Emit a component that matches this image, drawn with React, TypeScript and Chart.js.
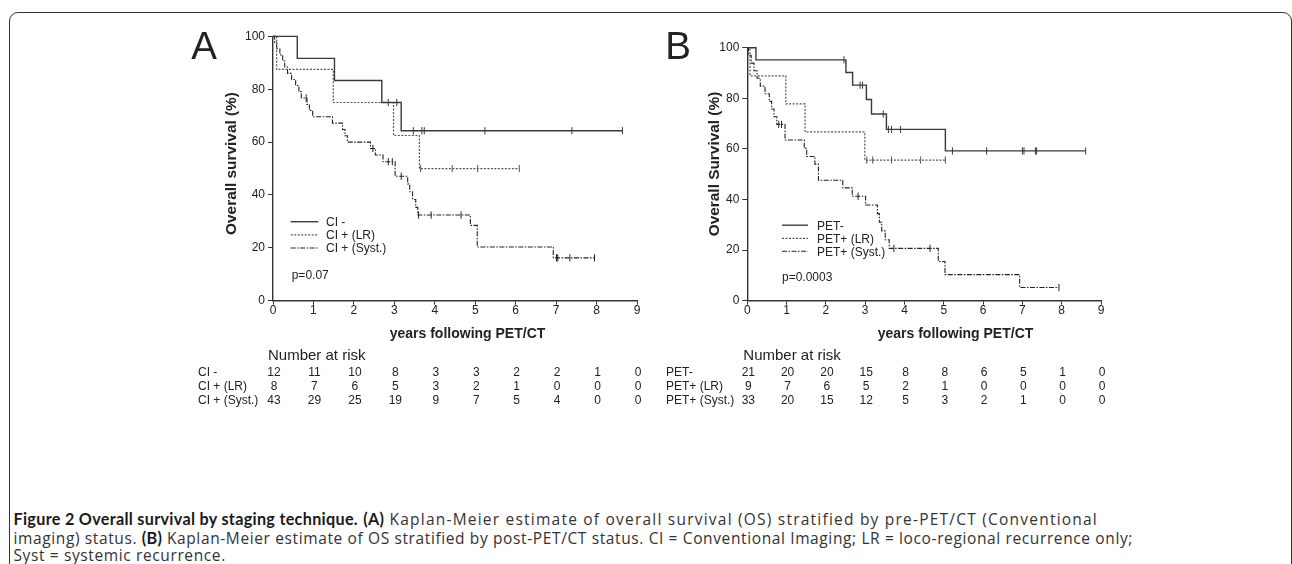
import React, { useEffect, useLayoutEffect, useRef } from "react";
import { Chart, registerables } from "chart.js";

Chart.register(...registerables);

// ---------- shared axis data ----------
const X_TICK_VALUES = [0, 1, 2, 3, 4, 5, 6, 7, 8, 9];

// ---------- Panel A : conventional imaging ----------
const aNames = ["CI -", "CI + (LR)", "CI + (Syst.)"];

const aNegTimes = [0, 0.6, 1.52, 2.69, 3.17, 8.64];
const aNegSurv = [100, 91.7, 83.3, 75.0, 64.3, 64.3];
const aNegCensor = [2.85, 3.06, 3.47, 3.68, 3.74, 5.24, 7.39, 8.64];

const aLrTimes = [0, 0.09, 1.49, 2.98, 3.62, 6.09];
const aLrSurv = [100, 87.5, 75.0, 62.5, 50.0, 50.0];
const aLrCensor = [3.65, 4.43, 5.06, 6.09];

const aSystTimes = [0, 0.04, 0.09, 0.17, 0.24, 0.29, 0.36, 0.46, 0.56, 0.64, 0.7, 0.84, 0.9, 0.98, 1.47, 1.72, 1.78, 1.84, 2.41, 2.53, 2.72, 3.02, 3.33, 3.38, 3.45, 3.53, 3.58, 4.88, 5.05, 6.93, 7.95];
const aSystSurv = [100, 97.7, 95.3, 93.0, 90.7, 88.4, 86.0, 83.7, 81.4, 79.1, 76.7, 74.3, 72.0, 69.6, 67.2, 64.8, 62.4, 60.0, 57.6, 55.1, 52.6, 47.1, 44.2, 41.2, 38.3, 35.3, 32.4, 28.5, 20.3, 16.2, 16.2];
const aSystCensor = [0.82, 2.47, 2.85, 2.95, 3.17, 3.6, 3.91, 4.65, 7.01, 7.04, 7.34, 7.95];

const aRiskNeg = [12, 11, 10, 8, 3, 3, 2, 2, 1, 0];
const aRiskLr = [8, 7, 6, 5, 3, 2, 1, 0, 0, 0];
const aRiskSyst = [43, 29, 25, 19, 9, 7, 5, 4, 0, 0];

// ---------- Panel B : PET/CT ----------
const bNames = ["PET-", "PET+ (LR)", "PET+ (Syst.)"];

const bNegTimes = [0, 0.22, 2.51, 2.68, 3.03, 3.16, 3.54, 5.04, 8.61];
const bNegSurv = [100, 95.2, 90.2, 85.2, 79.5, 73.8, 67.7, 59.2, 59.2];
const bNegCensor = [2.46, 2.87, 2.93, 3.46, 3.59, 3.67, 3.9, 5.22, 6.09, 7.0, 7.04, 7.33, 7.36, 8.61];

const bLrTimes = [0, 0.07, 0.98, 1.47, 2.99, 5.04];
const bLrSurv = [100, 88.9, 77.8, 66.7, 55.6, 55.6];
const bLrCensor = [3.04, 3.19, 3.67, 4.41, 5.04];

const bSystTimes = [0, 0.03, 0.1, 0.17, 0.25, 0.33, 0.45, 0.56, 0.62, 0.68, 0.75, 0.96, 1.45, 1.51, 1.72, 1.81, 2.43, 2.67, 3.01, 3.31, 3.36, 3.42, 3.51, 3.61, 4.86, 5.03, 6.93, 7.93];
const bSystSurv = [100, 97.0, 93.9, 90.9, 87.9, 84.8, 81.8, 78.8, 75.8, 72.7, 69.7, 63.5, 60.2, 57.0, 54.0, 47.6, 44.6, 41.3, 37.8, 34.4, 31.0, 27.6, 24.1, 20.7, 15.5, 10.3, 5.2, 5.2];
const bSystCensor = [0.8, 0.87, 2.82, 3.73, 4.65, 7.93];

const bRiskNeg = [21, 20, 20, 15, 8, 8, 6, 5, 1, 0];
const bRiskLr = [9, 7, 6, 5, 2, 1, 0, 0, 0, 0];
const bRiskSyst = [33, 20, 15, 12, 5, 3, 2, 1, 0, 0];

// ---------- caption ----------
const captionLines: { text: string; bold: boolean }[][] = [
  [
    { text: "Figure 2 Overall survival by staging technique.", bold: true },
    { text: " ", bold: false },
    { text: "(A)", bold: true },
    { text: " Kaplan-Meier estimate of overall survival (OS) stratified by pre-PET/CT (Conventional", bold: false },
  ],
  [
    { text: "imaging) status. ", bold: false },
    { text: "(B)", bold: true },
    { text: " Kaplan-Meier estimate of OS stratified by post-PET/CT status. CI = Conventional Imaging; LR = loco-regional recurrence only;", bold: false },
  ],
  [{ text: "Syst = systemic recurrence.", bold: false }],
];

// ---------- styles ----------
const SERIES_STYLE = [
  { color: "#3a3a3a", width: 1.4, dash: [] as number[] },
  { color: "#555555", width: 1.2, dash: [2, 1.5] },
  { color: "#222222", width: 1.1, dash: [5, 1.5, 1.5, 1.5] },
];
const FONT = "'Liberation Sans', Arial, Helvetica, sans-serif";
const TEXT = "#222";

function survAt(times: number[], surv: number[], t: number) {
  let s = surv[0];
  for (let i = 0; i < times.length; i++) if (times[i] <= t + 1e-9) s = surv[i];
  return s;
}

type PanelSpec = {
  left: number; top: number; w: number; h: number;
  area: { l: number; r: number; t: number; b: number };
  letter: string; letterX: number;
  yTitle: string; yTitleX: number; yTitleY: number;
  xTitleX: number;
  legendX1: number; legendX2: number; legendTextX: number; legendYs: number[];
  pText: string; pX: number; pY: number;
  riskTitleX: number; riskLabelX: number;
  names: string[];
  series: { times: number[]; surv: number[]; censor: number[] }[];
  risk: number[][];
};

const PANELS: PanelSpec[] = [
  {
    left: 160, top: 0, w: 500, h: 420,
    area: { l: 273, r: 637, t: 36.4, b: 300.7 },
    letter: "A", letterX: 204,
    yTitle: "Overall survival (%)", yTitleX: 232, yTitleY: 163.5,
    xTitleX: 467.5,
    legendX1: 290.7, legendX2: 318.3, legendTextX: 326, legendYs: [221.7, 234.8, 248],
    pText: "p=0.07", pX: 291.7, pY: 276,
    riskTitleX: 268, riskLabelX: 198,
    names: aNames,
    series: [
      { times: aNegTimes, surv: aNegSurv, censor: aNegCensor },
      { times: aLrTimes, surv: aLrSurv, censor: aLrCensor },
      { times: aSystTimes, surv: aSystSurv, censor: aSystCensor },
    ],
    risk: [aRiskNeg, aRiskLr, aRiskSyst],
  },
  {
    left: 650, top: 0, w: 500, h: 420,
    area: { l: 747.3, r: 1101, t: 47.7, b: 300.7 },
    letter: "B", letterX: 678,
    yTitle: "Overall Survival (%)", yTitleX: 715, yTitleY: 164,
    xTitleX: 955.5,
    legendX1: 782, legendX2: 808, legendTextX: 817, legendYs: [225.2, 238.3, 251.3],
    pText: "p=0.0003", pX: 782, pY: 277.3,
    riskTitleX: 743.3, riskLabelX: 666,
    names: bNames,
    series: [
      { times: bNegTimes, surv: bNegSurv, censor: bNegCensor },
      { times: bLrTimes, surv: bLrSurv, censor: bLrCensor },
      { times: bSystTimes, surv: bSystSurv, censor: bSystCensor },
    ],
    risk: [bRiskNeg, bRiskLr, bRiskSyst],
  },
];

const RISK_BASELINES = [375.7, 390, 404];

function Panel({ spec }: { spec: PanelSpec }) {
  const ref = useRef<HTMLCanvasElement>(null);

  useEffect(() => {
    const canvas = ref.current;
    if (!canvas) return;
    const ox = spec.left;
    const oy = spec.top;

    const datasets: any[] = [];
    spec.series.forEach((s, i) => {
      const st = SERIES_STYLE[i];
      datasets.push({
        label: spec.names[i],
        data: s.times.map((t, k) => ({ x: t, y: s.surv[k] })),
        stepped: true,
        borderColor: st.color,
        borderWidth: st.width,
        borderDash: st.dash,
        pointRadius: 0,
        fill: false,
        tension: 0,
        clip: false,
      });
    });
    spec.series.forEach((s, i) => {
      const st = SERIES_STYLE[i];
      datasets.push({
        label: spec.names[i] + " censored",
        data: s.censor.map((t) => ({ x: t, y: survAt(s.times, s.surv, t) })),
        showLine: false,
        pointStyle: "line",
        pointRotation: 90,
        pointRadius: 3.6,
        pointBorderColor: st.color,
        pointBorderWidth: 1,
        pointBackgroundColor: st.color,
        clip: false,
      });
    });

    const textPlugin = {
      id: "panelText",
      afterDraw(chart: any) {
        const ctx = chart.ctx as CanvasRenderingContext2D;
        const xs = chart.scales.x;
        ctx.save();
        ctx.fillStyle = TEXT;

        // panel letter
        ctx.font = `38.5px ${FONT}`;
        ctx.textAlign = "center";
        ctx.textBaseline = "alphabetic";
        ctx.fillText(spec.letter, spec.letterX - ox, 59.3 - oy);

        // y title
        ctx.save();
        ctx.font = `bold 15.4px ${FONT}`;
        ctx.textAlign = "center";
        ctx.textBaseline = "middle";
        ctx.translate(spec.yTitleX - ox, spec.yTitleY - oy);
        ctx.rotate(-Math.PI / 2);
        ctx.fillText(spec.yTitle, 0, 0);
        ctx.restore();

        // x title
        ctx.font = `bold 14px ${FONT}`;
        ctx.textAlign = "center";
        ctx.textBaseline = "alphabetic";
        ctx.fillText("years following PET/CT", spec.xTitleX - ox, 337.5 - oy);

        // legend
        spec.names.forEach((name, i) => {
          const st = SERIES_STYLE[i];
          const y = spec.legendYs[i] - oy;
          ctx.save();
          ctx.strokeStyle = st.color;
          ctx.lineWidth = st.width;
          ctx.setLineDash(st.dash);
          ctx.beginPath();
          ctx.moveTo(spec.legendX1 - ox, y);
          ctx.lineTo(spec.legendX2 - ox, y);
          ctx.stroke();
          ctx.restore();
          ctx.font = `12px ${FONT}`;
          ctx.textAlign = "left";
          ctx.textBaseline = "middle";
          ctx.fillText(name, spec.legendTextX - ox, y + 1);
        });

        // p value
        ctx.font = `12px ${FONT}`;
        ctx.textAlign = "left";
        ctx.textBaseline = "middle";
        ctx.fillText(spec.pText, spec.pX - ox, spec.pY - oy);

        // number at risk table
        ctx.font = `15px ${FONT}`;
        ctx.textBaseline = "alphabetic";
        ctx.textAlign = "left";
        ctx.fillText("Number at risk", spec.riskTitleX - ox, 359.5 - oy);

        ctx.font = `12px ${FONT}`;
        spec.risk.forEach((row, r) => {
          const by = RISK_BASELINES[r] - oy;
          ctx.textAlign = "left";
          ctx.fillText(spec.names[r], spec.riskLabelX - ox, by);
          ctx.textAlign = "center";
          row.forEach((v, c) => {
            ctx.fillText(String(v), xs.getPixelForValue(X_TICK_VALUES[c]) + 1, by);
          });
        });
        ctx.restore();
      },
    };

    const a = spec.area;
    const chart = new Chart(canvas, {
      type: "line",
      data: { datasets },
      options: {
        animation: false,
        responsive: false,
        maintainAspectRatio: false,
        devicePixelRatio: 1,
        events: [],
        layout: {
          padding: { left: 0, top: a.t - oy, right: spec.w - (a.r - ox), bottom: 0 },
        },
        plugins: { legend: { display: false }, tooltip: { enabled: false } },
        scales: {
          x: {
            type: "linear",
            min: 0,
            max: 9,
            afterBuildTicks: (scale: any) => {
              scale.ticks = X_TICK_VALUES.map((v) => ({ value: v }));
            },
            afterFit: (scale: any) => {
              scale.height = spec.h - (a.b - oy);
            },
            ticks: {
              color: TEXT,
              font: { family: FONT, size: 12, lineHeight: 1 },
              padding: 0,
              maxRotation: 0,
              autoSkip: false,
            },
            grid: { display: true, drawOnChartArea: false, drawTicks: true, tickLength: 4, color: "#333", lineWidth: 1 },
            border: { display: true, color: "#333", width: 1.4 },
          },
          y: {
            type: "linear",
            min: 0,
            max: 100,
            afterFit: (scale: any) => {
              scale.width = a.l - ox;
            },
            ticks: {
              stepSize: 20,
              color: TEXT,
              font: { family: FONT, size: 12 },
              padding: 3,
            },
            grid: { display: true, drawOnChartArea: false, drawTicks: true, tickLength: 5, color: "#333", lineWidth: 1 },
            border: { display: true, color: "#333", width: 1.4 },
          },
        },
      } as any,
      plugins: [textPlugin],
    });
    return () => chart.destroy();
  }, [spec]);

  return (
    <canvas
      ref={ref}
      width={spec.w}
      height={spec.h}
      style={{ position: "absolute", left: spec.left, top: spec.top, width: spec.w, height: spec.h }}
    />
  );
}

const CAPTION_LEFT = 13.5;
const CAPTION_RIGHTS = [1098, 1133];
const CAPTION_BOLD_END = 358;
const CAPTION_BASELINES = [524.5, 543.2, 561.9];
const CAPTION_FONT_SIZE = 15.5;

function Caption() {
  const lineRefs = [useRef<HTMLDivElement>(null), useRef<HTMLDivElement>(null), useRef<HTMLDivElement>(null)];
  useLayoutEffect(() => {
    const fit = () => {
      const all = lineRefs.map((r) => r.current).filter(Boolean) as HTMLDivElement[];
      // bold spacing from the title run
      const boldEls = all.flatMap((el) => Array.from(el.querySelectorAll("b")) as HTMLElement[]);
      boldEls.forEach((b) => (b.style.letterSpacing = "0px"));
      const title = boldEls[0];
      if (title) {
        const w = title.getBoundingClientRect().width;
        const n = Math.max(1, (title.textContent || "").length);
        const bs = (CAPTION_BOLD_END - CAPTION_LEFT - w) / n;
        boldEls.forEach((b) => (b.style.letterSpacing = `${bs}px`));
      }
      let lastSpacing = 0;
      all.forEach((el, i) => {
        const regular = Array.from(el.querySelectorAll("span.reg")) as HTMLElement[];
        regular.forEach((s) => (s.style.letterSpacing = "0px"));
        if (i < CAPTION_RIGHTS.length) {
          const w = el.getBoundingClientRect().width;
          const n = Math.max(1, regular.reduce((acc, s) => acc + (s.textContent || "").length, 0));
          lastSpacing = (CAPTION_RIGHTS[i] - CAPTION_LEFT - w) / n;
        }
        regular.forEach((s) => (s.style.letterSpacing = `${lastSpacing}px`));
      });
    };
    fit();
    if ((document as any).fonts && (document as any).fonts.ready) {
      (document as any).fonts.ready.then(fit);
    }
  }, []);
  return (
    <>
      {captionLines.map((line, i) => (
        <div
          key={i}
          ref={lineRefs[i]}
          style={{
            position: "absolute",
            left: CAPTION_LEFT,
            top: CAPTION_BASELINES[i] - CAPTION_FONT_SIZE,
            fontFamily: "'Open Sans', Lato, sans-serif",
            fontSize: CAPTION_FONT_SIZE,
            lineHeight: "19px",
            color: "#333",
            whiteSpace: "pre",
          }}
        >
          {line.map((seg, k) =>
            seg.bold ? (
              <b
                key={k}
                style={{ color: "#1a1a1a", fontFamily: "Lato, 'Open Sans', sans-serif", fontWeight: 700, fontSize: 16.2 }}
              >
                {seg.text}
              </b>
            ) : (
              <span key={k} className="reg">
                {seg.text}
              </span>
            )
          )}
        </div>
      ))}
    </>
  );
}

export default function App() {
  return (
    <div
      style={{
        position: "absolute",
        left: 0,
        top: 0,
        width: 1292,
        height: 564,
        overflow: "hidden",
        background: "#fff",
      }}
    >
      <div
        style={{
          position: "absolute",
          left: 8.5,
          top: 11.5,
          width: 1283,
          height: 640,
          border: "1.5px solid #333",
          borderRadius: 9,
          boxSizing: "border-box",
        }}
      />
      {PANELS.map((p, i) => (
        <Panel key={i} spec={p} />
      ))}
      <Caption />
    </div>
  );
}
